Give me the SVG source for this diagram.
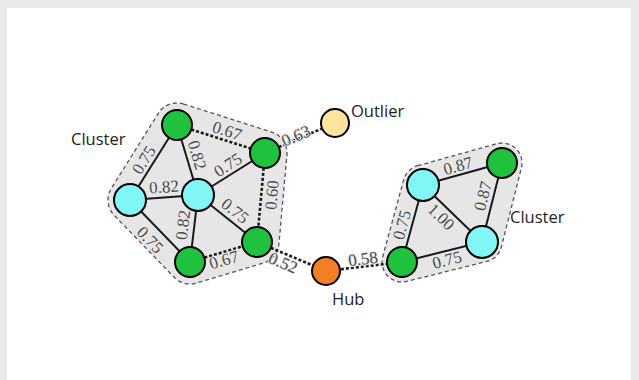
<svg xmlns="http://www.w3.org/2000/svg" width="639" height="380" viewBox="0 0 639 380">
<style>
.hull{fill:#e6e6e6;stroke:#555;stroke-width:1.3;stroke-dasharray:4 3}
.e{stroke:#1a1a1a;stroke-width:2;fill:none}
.d{stroke:#1a1a1a;stroke-width:2.6;stroke-dasharray:3 2;fill:none}
.n{stroke:#000;stroke-width:2}
.g{fill:#1fc23c}
.c{fill:#80f6f6}
.lbl{font-family:"Liberation Serif","DejaVu Serif",serif;font-size:17px;fill:#4a4a4a;text-anchor:middle;dominant-baseline:central;paint-order:stroke;stroke:#eaeaea;stroke-width:2px}
.t{font-family:"Open Sans","Liberation Sans",sans-serif;font-size:16.5px;fill:#222}
</style>
<rect x="0" y="0" width="639" height="380" fill="#e9e9e9"/>
<rect x="7" y="8" width="624" height="372" fill="#fff"/>
<g id="hulls">
<path class="hull" d="M183.67,104.04 L271.67,132.04 A22 22 0 0 1 286.91,154.97 L278.91,243.97 A22 22 0 0 1 263.29,263.08 L196.29,283.08 A22 22 0 0 1 174.19,277.3 L114.19,215.3 A22 22 0 0 1 111.36,188.32 L158.36,113.32 A22 22 0 0 1 183.67,104.04 Z"/>
<path class="hull" d="M417.63,165.73 L496.63,143.73 A20 20 0 0 1 521.39,167.91 L501.39,246.91 A20 20 0 0 1 486.85,261.4 L406.85,281.4 A20 20 0 0 1 382.7,256.74 L403.7,179.74 A20 20 0 0 1 417.63,165.73 Z"/>
</g>
<g id="connectors">
<line class="e" x1="177" y1="125" x2="130" y2="200"/>
<line class="e" x1="177" y1="125" x2="198" y2="195"/>
<line class="e" x1="130" y1="200" x2="198" y2="195"/>
<line class="e" x1="198" y1="195" x2="265" y2="153"/>
<line class="e" x1="198" y1="195" x2="257" y2="242"/>
<line class="e" x1="198" y1="195" x2="190" y2="262"/>
<line class="e" x1="130" y1="200" x2="190" y2="262"/>
<line class="d" x1="177" y1="125" x2="265" y2="153"/>
<line class="d" x1="265" y1="153" x2="257" y2="242"/>
<line class="d" x1="190" y1="262" x2="257" y2="242"/>
<line class="d" x1="265" y1="153" x2="335" y2="123"/>
<line class="d" x1="257" y1="242" x2="326" y2="271"/>
<line class="d" x1="326" y1="271" x2="402" y2="262"/>
<line class="e" x1="423" y1="185" x2="502" y2="163"/>
<line class="e" x1="502" y1="163" x2="482" y2="242"/>
<line class="e" x1="423" y1="185" x2="482" y2="242"/>
<line class="e" x1="423" y1="185" x2="402" y2="262"/>
<line class="e" x1="402" y1="262" x2="482" y2="242"/>
<text class="lbl" transform="translate(144,160) rotate(-58)">0.75</text>
<text class="lbl" transform="translate(197,155) rotate(73)">0.82</text>
<text class="lbl" transform="translate(164,187) rotate(-4)">0.82</text>
<text class="lbl" transform="translate(228,165) rotate(-33)">0.75</text>
<text class="lbl" transform="translate(227,131) rotate(17.6)">0.67</text>
<text class="lbl" transform="translate(272,195) rotate(-85)">0.60</text>
<text class="lbl" transform="translate(235,211) rotate(38.5)">0.75</text>
<text class="lbl" transform="translate(150,240) rotate(46)">0.75</text>
<text class="lbl" transform="translate(183,225) rotate(-83)">0.82</text>
<text class="lbl" transform="translate(224,260) rotate(-16.6)">0.67</text>
<text class="lbl" transform="translate(283,263) rotate(22.8)">0.52</text>
<text class="lbl" transform="translate(296,136) rotate(-23)">0.63</text>
<text class="lbl" transform="translate(363,259) rotate(-7)">0.58</text>
<text class="lbl" transform="translate(458,166) rotate(-15.6)">0.87</text>
<text class="lbl" transform="translate(483,196) rotate(-76)">0.87</text>
<text class="lbl" transform="translate(441,217) rotate(44)">1.00</text>
<text class="lbl" transform="translate(402,225) rotate(-74.7)">0.75</text>
<text class="lbl" transform="translate(447,260) rotate(-14)">0.75</text>
</g>
<g id="nA"><circle class="n g" cx="177" cy="125" r="15"/></g>
<g id="nB"><circle class="n g" cx="265" cy="153" r="15"/></g>
<g id="nC"><circle class="n c" cx="130" cy="200" r="16"/></g>
<g id="nD"><circle class="n c" cx="198" cy="195" r="16"/></g>
<g id="nE"><circle class="n g" cx="190" cy="262" r="15"/></g>
<g id="nF"><circle class="n g" cx="257" cy="242" r="15"/></g>
<g id="outlier"><circle class="n" fill="#ffe49e" cx="335" cy="123" r="14"/><text class="t" x="351" y="117">Outlier</text></g>
<g id="hub"><circle class="n" fill="#f47e22" cx="326" cy="271" r="14"/><text class="t" x="332" y="305">Hub</text></g>
<g id="nG"><circle class="n c" cx="423" cy="185" r="16"/></g>
<g id="nH"><circle class="n g" cx="502" cy="163" r="15"/></g>
<g id="nI"><circle class="n c" cx="482" cy="242" r="16"/></g>
<g id="nJ"><circle class="n g" cx="402" cy="262" r="15"/></g>
<g id="cluster1"><text class="t" x="71" y="145">Cluster</text></g>
<g id="cluster2"><text class="t" x="510" y="223">Cluster</text></g>
</svg>
